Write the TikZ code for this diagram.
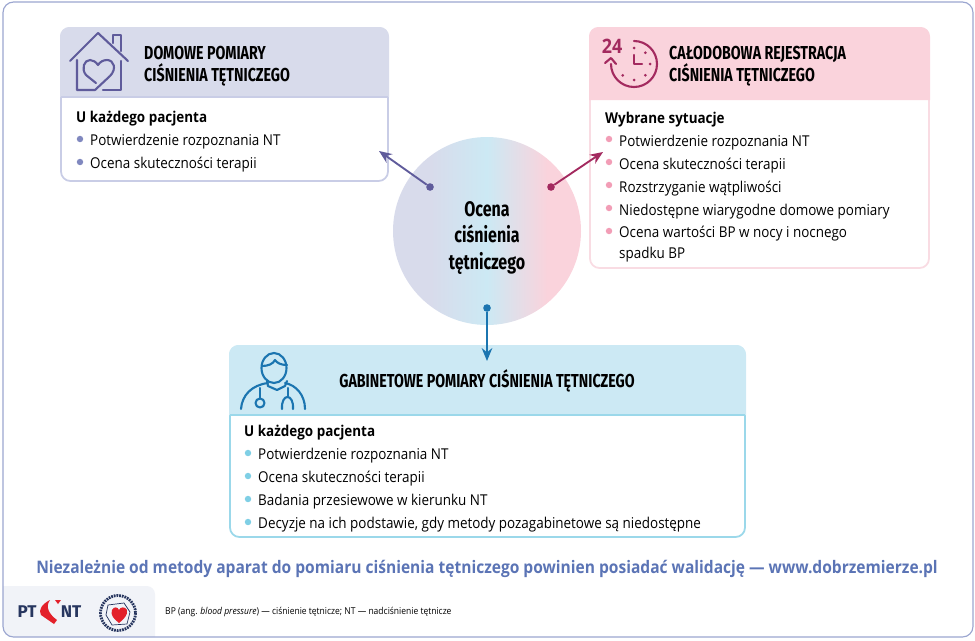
\documentclass[tikz,border=0pt]{standalone}
\usepackage{fontspec}
\setmainfont[FakeStretch=0.9]{Open Sans}
\newfontfamily\headfont[FakeStretch=0.76]{Fira Sans Bold}
\newfontfamily\logofont{Fira Sans Bold}
\usetikzlibrary{arrows.meta}
\definecolor{frameblue}{HTML}{9BA6D0}
\definecolor{logogray}{HTML}{F1F3F8}
\definecolor{homefill}{HTML}{D8DBEB}
\definecolor{homeline}{HTML}{C9CDE6}
\definecolor{homedark}{HTML}{5F5B9B}
\definecolor{homedot}{HTML}{8088BF}
\definecolor{abpmfill}{HTML}{FAD3DC}
\definecolor{abpmline}{HTML}{F9DCE3}
\definecolor{abpmdark}{HTML}{A32A5F}
\definecolor{abpmdot}{HTML}{F29DB6}
\definecolor{officefill}{HTML}{CCE9F4}
\definecolor{officeline}{HTML}{9BD8EA}
\definecolor{officedark}{HTML}{1B75B0}
\definecolor{officedot}{HTML}{7FCFE5}
\definecolor{noteblue}{HTML}{5B74B5}
\definecolor{logonavy}{HTML}{27365F}
\definecolor{logored}{HTML}{E3202A}
\pgfdeclarehorizontalshading{ocenashade}{100bp}{color(0bp)=(homefill); color(35bp)=(homefill); color(50bp)=(officefill); color(66bp)=(abpmfill); color(100bp)=(abpmfill)}
\tikzset{
 headtxt/.style={font=\headfont\fontsize{16}{18.8}\selectfont,align=left,anchor=west,text=black,inner sep=0pt},
 boldtxt/.style={font=\fontsize{12.75}{15}\selectfont\bfseries,anchor=west,inner sep=0pt,yshift=-1.6pt},
 itemtxt/.style={font=\fontsize{12.75}{18.2}\selectfont,anchor=west,inner sep=0pt,align=left,yshift=-1.6pt},
 bullet/.style={circle,inner sep=0pt,minimum size=5.5pt},
 enddot/.style={circle,inner sep=0pt,minimum size=6.5pt},
 linkarrow/.style={line width=1.6pt,-{Stealth[length=11pt,width=9pt]}},
 iconline/.style={line width=1.8pt,line cap=round,line join=round},
}
\begin{document}
\begin{tikzpicture}[x=0.03cm,y=-0.03cm]
 \useasboundingbox (0,0) rectangle (975,641);
 % frame and logo field
 \begin{scope}
  \clip[rounded corners=9pt] (3,2) rectangle (973,637);
  \fill[logogray,rounded corners=7pt] (-12,586) -- (155,586) -- (155,660) -- (-12,660) -- cycle;
 \end{scope}
 \draw[frameblue,line width=1pt,rounded corners=9pt] (3,2) rectangle (973,637);

 % three boxes
 \draw[homeline,line width=1.5pt,fill=white,rounded corners=8pt] (61,28) rectangle (388,181);
 \fill[homefill] (60,97) {[rounded corners=8pt] -- (60,27) -- (389,27)} -- (389,97) -- cycle;
 \draw[homeline,line width=1.5pt] (61,97) -- (388,97);

 \draw[abpmline,line width=1.5pt,fill=white,rounded corners=8pt] (590,28) rectangle (929,268);
 \fill[abpmfill] (589,100) {[rounded corners=8pt] -- (589,27) -- (930,27)} -- (930,100) -- cycle;

 \draw[officeline,line width=1.5pt,fill=white,rounded corners=8pt] (230,346) rectangle (745,537);
 \fill[officefill] (229,415) {[rounded corners=8pt] -- (229,345) -- (746,345)} -- (746,415) -- cycle;
 \draw[officeline,line width=1.5pt] (230,415) -- (745,415);

 % headers
 \node[headtxt] (homehead) at (144,66) {DOMOWE POMIARY\\CIŚNIENIA TĘTNICZEGO};
 \node[headtxt] (abpmhead) at (669,66) {CAŁODOBOWA REJESTRACJA\\CIŚNIENIA TĘTNICZEGO};
 \node[headtxt,anchor=center] (officehead) at (487,381) {GABINETOWE POMIARY CIŚNIENIA TĘTNICZEGO};

 % home list
 \node[boldtxt] (homelead) at (76,117) {U każdego pacjenta};
 \node[itemtxt] (homea) at (90,140) {Potwierdzenie rozpoznania NT};
 \node[itemtxt] (homeb) at (90,163) {Ocena skuteczności terapii};
 \foreach \n/\y in {a/139,b/162}
  \node[bullet,fill=homedot] (homedot\n) at (80,\y) {};

 % abpm list
 \node[boldtxt] (abpmlead) at (605,118) {Wybrane sytuacje};
 \node[itemtxt] (abpma) at (619,141) {Potwierdzenie rozpoznania NT};
 \node[itemtxt] (abpmb) at (619,164) {Ocena skuteczności terapii};
 \node[itemtxt] (abpmc) at (619,187) {Rozstrzyganie wątpliwości};
 \node[itemtxt] (abpmd) at (619,210) {Niedostępne wiarygodne domowe pomiary};
 \node[itemtxt] (abpme) at (619,242.5) {Ocena wartości BP w nocy i nocnego\\spadku BP};
 \foreach \n/\y in {a/139,b/162,c/185,d/208,e/231}
  \node[bullet,fill=abpmdot] (abpmdot\n) at (609,\y) {};

 % office list
 \node[boldtxt] (officelead) at (244,431) {U każdego pacjenta};
 \node[itemtxt] (officea) at (258,454) {Potwierdzenie rozpoznania NT};
 \node[itemtxt] (officeb) at (258,477) {Ocena skuteczności terapii};
 \node[itemtxt] (officec) at (258,500) {Badania przesiewowe w kierunku NT};
 \node[itemtxt] (officed) at (258,523) {Decyzje na ich podstawie, gdy metody pozagabinetowe są niedostępne};
 \foreach \n/\y in {a/453,b/476,c/499,d/522}
  \node[bullet,fill=officedot] (officedot\n) at (248,\y) {};

 % centre circle
 \node[circle,inner sep=0pt,minimum size=188*0.03cm,shading=ocenashade] (ocena) at (487,231) {};
 \node[font=\headfont\fontsize{18}{22.2}\selectfont,align=center,inner sep=0pt] (ocenatxt) at (487,238) {Ocena\\ciśnienia\\tętniczego};

 % arrows
 \node[enddot,fill=homedark] (homestart) at (430,187) {};
 \node[enddot,fill=abpmdark] (abpmstart) at (551,187) {};
 \node[enddot,fill=officedark] (officestart) at (487,308) {};
 \coordinate (hometip) at (379,151);
 \coordinate (abpmtip) at (603,152);
 \coordinate (officetip) at (487,361);
 \draw[linkarrow,homedark] (homestart) -- (hometip);
 \draw[linkarrow,abpmdark] (abpmstart) -- (abpmtip);
 \draw[linkarrow,officedark] (officestart) -- (officetip);

 % house icon
 \begin{scope}[iconline,homedark]
  \draw (70,61) -- (98,33) -- (128,61);
  \draw (113,43) -- (113,35) -- (121,35) -- (121,51);
  \draw (77,60) -- (77,90) -- (95,90) -- (110,76) .. controls (117,69) and (114,60) .. (107,60) .. controls (103,60) and (100,62) .. (98,65) .. controls (96,62) and (93,60) .. (90,60) .. controls (84,60) and (81,69) .. (86,75) -- (96,83);
  \draw (103,90) -- (121,90) -- (121,61);
 \end{scope}

 % clock icon
 \begin{scope}[iconline,abpmdark]
  \node[font=\fontsize{17}{17}\selectfont\bfseries,text=abpmdark,inner sep=0pt] (clocktwentyfour) at (612,46) {24};
  \draw (634,41) arc (-90:180:23);
  \draw (605,63) -- (611,58) -- (616,64);
  \draw (634,55) -- (634,64) -- (642,64);
  \foreach \a in {-90,-45,0,45,90,135}
   \fill (634,64) ++(\a:16) circle (1.5);
 \end{scope}

 % doctor icon
 \begin{scope}[iconline,officedark]
  \draw (274,368) circle [x radius=12.5,y radius=15];
  \draw (262,366) .. controls (268,366) and (273,364) .. (275,360) .. controls (277,363) and (281,365) .. (287,365);
  \draw (267,381) -- (268,386) -- (277,390) -- (285,386) -- (287,381);
  \draw (241,409) .. controls (242,395) and (252,385) .. (268,383);
  \draw (285,383) .. controls (296,385) and (305,395) .. (305,409);
  \draw (260,388) -- (260,398);
  \draw (260,403) circle (4.5);
  \draw (288,388) -- (288,396);
  \draw (282,409) .. controls (281,393) and (294,393) .. (293,409);
 \end{scope}

 % note and footnote
 \node[font=\fontsize{14.75}{18}\selectfont\bfseries,text=noteblue,inner sep=0pt] (noteline) at (487,569) {Niezależnie od metody aparat do pomiaru ciśnienia tętniczego powinien posiadać walidację — www.dobrzemierze.pl};
 \node[font=\fontsize{8.08}{9}\selectfont,anchor=west,inner sep=0pt] (footnote) at (165,612) {BP (ang. \textit{blood pressure}) — ciśnienie tętnicze; NT — nadciśnienie tętnicze};

 % logos
 \node[font=\logofont\fontsize{14.5}{15}\selectfont,text=logonavy,inner sep=0pt] (logopt) at (27,612) {PT};
 \node[font=\logofont\fontsize{14.5}{15}\selectfont,text=logonavy,inner sep=0pt] (logont) at (71,612) {NT};
 \fill[logored] (50,600) .. controls (42,604) and (38,610) .. (41,615) -- (54,624) -- (57,620) .. controls (49,614) and (45,607) .. cycle;
 \fill[logored] (55,600) -- (61,600) -- (58,604) -- cycle;
 \draw[logonavy,line width=2.4pt,dash pattern=on 1.5pt off 0.8pt] (118,613) circle (17.5);
 \draw[logonavy,line width=0.6pt] (108,605) -- (124,603) -- (130,612) -- (127,624) -- (112,625) -- (106,615) -- cycle;
 \fill[logored] (119,623) .. controls (114,619) and (110,615) .. (112,610) .. controls (114,606) and (118,607) .. (119,610) .. controls (120,607) and (125,606) .. (127,610) .. controls (128,615) and (124,619) .. cycle;
\end{tikzpicture}
\end{document}
